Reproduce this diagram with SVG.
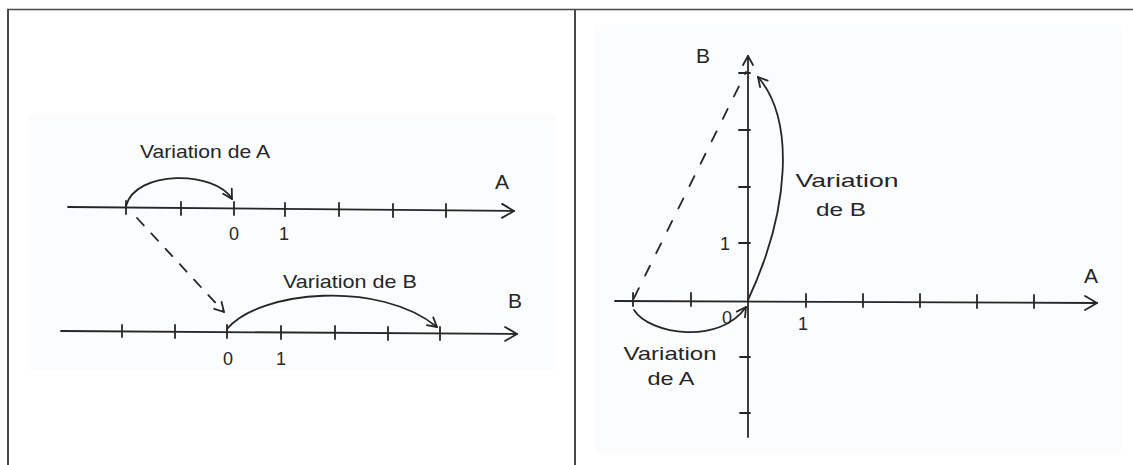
<svg xmlns="http://www.w3.org/2000/svg" width="1133" height="465" viewBox="0 0 1133 465">
<style>
.ln{fill:none;stroke:#262626;stroke-width:1.8;stroke-linecap:round;stroke-linejoin:round}
.dash{stroke-dasharray:10 11}
.frame{stroke:#4a4a4a;fill:none}
.t{font-family:"Liberation Sans",Arial,sans-serif;fill:#262626;font-size:19px;text-anchor:middle}
.n{font-size:18px}
.ax{font-size:21px}
.paper{fill:#fbfcfd}
</style>
<defs>
<marker id="axisHead" markerUnits="userSpaceOnUse" markerWidth="18" markerHeight="18" viewBox="-15 -9 18 18" refX="0" refY="0" orient="auto">
<path d="M-12,-7 L0,0 L-12,7" fill="none" stroke="#262626" stroke-width="1.8" stroke-linecap="round" stroke-linejoin="round"/>
</marker>
<marker id="smallHead" markerUnits="userSpaceOnUse" markerWidth="14" markerHeight="14" viewBox="-12 -7 14 14" refX="0" refY="0" orient="auto">
<path d="M-9,-5 L0,0 L-9,5" fill="none" stroke="#262626" stroke-width="1.8" stroke-linecap="round" stroke-linejoin="round"/>
</marker>
</defs>
<rect x="0" y="0" width="1133" height="465" fill="#ffffff"/>
<g id="frame">
<line class="frame" x1="7" y1="9.5" x2="1133" y2="9.5" stroke-width="1.5"/>
<line class="frame" x1="8" y1="9" x2="8" y2="465" stroke-width="2"/>
<line class="frame" x1="575" y1="9" x2="575" y2="465" stroke-width="2"/>
</g>
<g id="left-panel">
<rect class="paper" x="28" y="115" width="528" height="255"/>
<g id="axis-A">
<line class="ln" x1="68" y1="207" x2="514" y2="211" marker-end="url(#axisHead)"/>
<path class="ln" d="M126,201 V214 M181,202 V215 M234,202 V215 M285,203 V216 M339,203 V216 M393,204 V217 M446,204 V217"/>
<text class="t ax" x="502" y="189">A</text>
<text class="t n" x="234" y="240">0</text>
<text class="t n" x="284" y="240">1</text>
</g>
<g id="axis-B">
<line class="ln" x1="61" y1="331" x2="517" y2="334" marker-end="url(#axisHead)"/>
<path class="ln" d="M122,325 V337 M175,325 V338 M227,325 V338 M281,326 V339 M335,326 V339 M388,327 V340 M440,327 V340"/>
<text class="t ax" x="515" y="308">B</text>
<text class="t n" x="228" y="365">0</text>
<text class="t n" x="281" y="365">1</text>
</g>
</g>
<g id="right-panel">
<rect class="paper" x="595" y="25" width="526" height="428"/>
<g id="axis-A-h">
<line class="ln" x1="615" y1="301" x2="1097" y2="303" marker-end="url(#axisHead)"/>
<path class="ln" d="M633,293 V306 M691,293 V306 M806,294 V307 M863,294 V307 M920,294 V307 M977,295 V308 M1034,295 V308"/>
<text class="t ax" x="1091" y="283">A</text>
<text class="t n" x="803" y="330">1</text>
<text class="t n" x="727" y="324">0</text>
</g>
<g id="axis-B-v">
<line class="ln" x1="748" y1="437" x2="748" y2="56" marker-end="url(#smallHead)"/>
<path class="ln" d="M739,73 H750 M739,130 H750 M739,187 H750 M739,243 H750 M740,357 H750 M740,413 H750"/>
<text class="t ax" x="703" y="63">B</text>
<text class="t n" x="725" y="250">1</text>
</g>
</g>
<g id="connectors">
<path id="arc-left-A" class="ln" d="M126,206 C135,170 215,170 232,199" marker-end="url(#smallHead)"/>
<path id="dash-left" class="ln dash" d="M137,218 L224,312" marker-end="url(#smallHead)"/>
<path id="arc-left-B" class="ln" d="M227,329 C260,290 380,280 437,327" marker-end="url(#smallHead)"/>
<path id="arc-right-B" class="ln" d="M748,300 C790,210 795,120 758,77" marker-end="url(#smallHead)"/>
<path id="arc-right-A" class="ln" d="M634,310 C650,335 720,345 746,307" marker-end="url(#smallHead)"/>
<path id="dash-right" class="ln" stroke-dasharray="11 14" d="M634,298 L746,72"/>
</g>
<g id="labels">
<text class="t" x="205" y="158" textLength="130" lengthAdjust="spacingAndGlyphs">Variation de A</text>
<text class="t" x="350" y="288" textLength="134" lengthAdjust="spacingAndGlyphs">Variation de B</text>
<text class="t" x="847" y="187" textLength="103" lengthAdjust="spacingAndGlyphs">Variation</text>
<text class="t" x="841" y="216" textLength="50" lengthAdjust="spacingAndGlyphs">de B</text>
<text class="t" x="670" y="360" textLength="93" lengthAdjust="spacingAndGlyphs">Variation</text>
<text class="t" x="671" y="385" textLength="47" lengthAdjust="spacingAndGlyphs">de A</text>
</g>
</svg>
